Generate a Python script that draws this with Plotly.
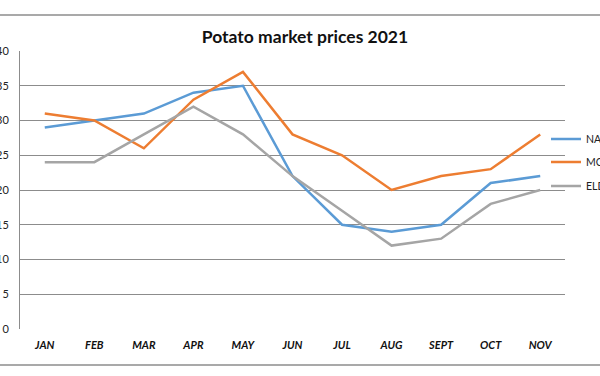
import plotly.graph_objects as go

months = ["JAN", "FEB", "MAR", "APR", "MAY", "JUN", "JUL", "AUG", "SEPT", "OCT", "NOV"]
nairobi = [29, 30, 31, 34, 35, 22, 15, 14, 15, 21, 22]
mombasa = [31, 30, 26, 33, 37, 28, 25, 20, 22, 23, 28]
eldoret = [24, 24, 28, 32, 28, 22, 17, 12, 13, 18, 20]
series_names = ["NAIROBI", "MOMBASA", "ELDORET"]
colors = ["#5B9BD5", "#ED7D31", "#A5A5A5"]
y_ticks = [0, 5, 10, 15, 20, 25, 30, 35, 40]

W, H = 600, 376
L, R, T, B = 20, 35, 51, 47
pw, ph = W - L - R, H - T - B

def px_x(p):
    return (p - L) / pw

def px_y(p):
    return (H - B - p) / ph

fig = go.Figure()
legend_ids = ["legend", "legend2", "legend3"]
for name, vals, col, lid in zip(series_names, [nairobi, mombasa, eldoret], colors, legend_ids):
    fig.add_trace(go.Scatter(x=months, y=vals, mode="lines", name=name,
                             line=dict(color=col, width=2.5), legend=lid))

legend_y_px = [139, 162, 186]
font_family = "Lato, 'Liberation Sans', sans-serif"
leg_common = dict(x=px_x(546), xanchor="left", yanchor="middle", bgcolor="rgba(0,0,0,0)",
                  font=dict(family=font_family, size=10.5, color="#222"), borderwidth=0)

fig.update_layout(
    width=W, height=H,
    margin=dict(l=L, r=R, t=T, b=B, autoexpand=False),
    paper_bgcolor="white", plot_bgcolor="white",
    title=dict(text="<b>Potato market prices 2021</b>", x=305 / W, xanchor="center",
               xref="container", y=1 - 37 / H, yanchor="middle", yref="container",
               font=dict(family=font_family, size=17.5, color="#111")),
    legend=dict(y=px_y(legend_y_px[0]), **leg_common),
    legend2=dict(y=px_y(legend_y_px[1]), **leg_common),
    legend3=dict(y=px_y(legend_y_px[2]), **leg_common),
    xaxis=dict(range=[-0.5, len(months) - 0.5], showgrid=False, showline=False, zeroline=False, ticks="",
               tickfont=dict(family=font_family, size=11, color="#111", style="italic", weight="bold"),
               ticklabelstandoff=8, automargin=False),
    yaxis=dict(range=[0, 40], tickvals=y_ticks, showgrid=True, gridcolor="#8c8c8c", gridwidth=1,
               showline=True, linecolor="#8c8c8c", linewidth=1, zeroline=False, ticks="",
               tickfont=dict(family=font_family, size=11, color="#222"),
               ticklabelstandoff=8, automargin=False),
    showlegend=True,
    shapes=[
        dict(type="line", xref="paper", yref="paper", x0=px_x(0), x1=px_x(W), y0=px_y(15), y1=px_y(15),
             line=dict(color="#8c8c8c", width=1.5)),
        dict(type="line", xref="paper", yref="paper", x0=px_x(0), x1=px_x(W), y0=px_y(365), y1=px_y(365),
             line=dict(color="#8c8c8c", width=1.5)),
    ],
)

fig.write_html("out.html", config={"displayModeBar": False},
               post_script="document.body.style.margin='0';document.body.style.overflow='hidden';")
